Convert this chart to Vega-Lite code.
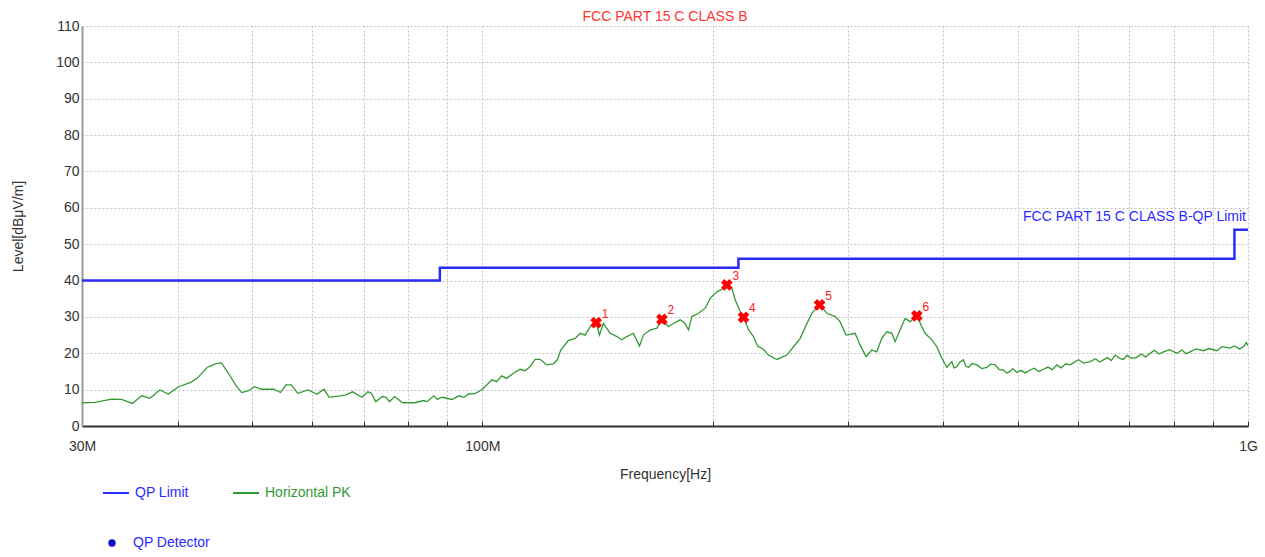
{
  "$schema": "https://vega.github.io/schema/vega-lite/v6.json",
  "width": 1166,
  "height": 400,
  "autosize": {"type": "none"},
  "padding": {"left": 82, "top": 26, "right": 17, "bottom": 131},
  "background": "white",
  "config": {
    "font": "Liberation Sans",
    "view": {"stroke": null},
    "axis": {"gridDash": [2, 2], "gridColor": "#c4c4c4", "gridWidth": 1, "labelFont": "Liberation Sans", "titleFont": "Liberation Sans"},
    "legend": {"labelFont": "Liberation Sans", "padding": 0}
  },
  "title": {"text": "FCC PART 15 C CLASS B", "color": "#ff3333", "fontSize": 14, "fontWeight": "normal", "font": "Liberation Sans", "offset": 3, "dy": 8, "anchor": "middle"},
  "datasets": {
    "limit": [
      {"f": 30, "L": 40, "s": "QP Limit"},
      {"f": 88, "L": 43.5, "s": "QP Limit"},
      {"f": 216, "L": 46, "s": "QP Limit"},
      {"f": 960, "L": 54, "s": "QP Limit"},
      {"f": 1000, "L": 54, "s": "QP Limit"}
    ],
    "pk": [
      {"f": 30.0, "L": 6.4}, {"f": 31.2, "L": 6.5}, {"f": 32.8, "L": 7.4}, {"f": 33.8, "L": 7.3}, {"f": 34.9, "L": 6.2},
      {"f": 35.9, "L": 8.3}, {"f": 36.8, "L": 7.6}, {"f": 37.9, "L": 9.9}, {"f": 38.9, "L": 8.8}, {"f": 40.1, "L": 10.8},
      {"f": 41.6, "L": 12.0}, {"f": 42.4, "L": 13.1}, {"f": 43.7, "L": 16.1}, {"f": 44.8, "L": 17.1}, {"f": 45.6, "L": 17.4},
      {"f": 46.6, "L": 14.5}, {"f": 47.6, "L": 11.3}, {"f": 48.5, "L": 9.2}, {"f": 49.5, "L": 9.7}, {"f": 50.4, "L": 10.8},
      {"f": 51.5, "L": 10.1}, {"f": 53.4, "L": 10.1}, {"f": 54.5, "L": 9.2}, {"f": 55.4, "L": 11.3}, {"f": 56.3, "L": 11.3},
      {"f": 57.4, "L": 9.0}, {"f": 59.2, "L": 9.9}, {"f": 60.8, "L": 8.7}, {"f": 62.1, "L": 10.1}, {"f": 63.1, "L": 7.9},
      {"f": 66.2, "L": 8.5}, {"f": 67.7, "L": 9.4}, {"f": 69.6, "L": 7.9}, {"f": 70.9, "L": 9.4}, {"f": 71.6, "L": 9.0},
      {"f": 72.6, "L": 6.7}, {"f": 74.0, "L": 8.1}, {"f": 74.9, "L": 7.9}, {"f": 75.6, "L": 6.7}, {"f": 76.8, "L": 8.1},
      {"f": 78.7, "L": 6.4}, {"f": 81.7, "L": 6.4}, {"f": 83.8, "L": 7.0}, {"f": 84.7, "L": 6.7}, {"f": 86.4, "L": 8.3},
      {"f": 87.3, "L": 7.3}, {"f": 88.6, "L": 7.9}, {"f": 91.3, "L": 7.3}, {"f": 93.1, "L": 8.3}, {"f": 94.6, "L": 7.9},
      {"f": 96.0, "L": 8.8}, {"f": 97.9, "L": 9.0}, {"f": 99.7, "L": 9.9}, {"f": 100.3, "L": 10.4}, {"f": 102.9, "L": 12.7},
      {"f": 104.4, "L": 12.2}, {"f": 106.0, "L": 13.8}, {"f": 107.6, "L": 13.1}, {"f": 109.8, "L": 14.5}, {"f": 112.0, "L": 15.6},
      {"f": 113.7, "L": 15.2}, {"f": 115.4, "L": 16.3}, {"f": 117.2, "L": 18.3}, {"f": 119.0, "L": 18.3}, {"f": 121.4, "L": 16.8},
      {"f": 123.8, "L": 17.1}, {"f": 125.3, "L": 18.2}, {"f": 126.6, "L": 20.9}, {"f": 129.5, "L": 23.5}, {"f": 132.2, "L": 24.1},
      {"f": 134.2, "L": 25.5}, {"f": 136.2, "L": 25.0}, {"f": 138.3, "L": 27.3}, {"f": 140.8, "L": 28.4}, {"f": 142.2, "L": 25.0},
      {"f": 143.9, "L": 28.2}, {"f": 146.9, "L": 25.5}, {"f": 149.9, "L": 24.6}, {"f": 152.1, "L": 23.7}, {"f": 154.4, "L": 24.6},
      {"f": 157.5, "L": 25.5}, {"f": 160.4, "L": 22.0}, {"f": 162.3, "L": 25.0}, {"f": 165.6, "L": 26.4}, {"f": 169.0, "L": 26.9},
      {"f": 171.6, "L": 29.3}, {"f": 175.0, "L": 27.3}, {"f": 177.7, "L": 28.2}, {"f": 181.3, "L": 29.2}, {"f": 184.0, "L": 28.2},
      {"f": 185.9, "L": 26.4}, {"f": 187.8, "L": 30.1}, {"f": 191.6, "L": 31.0}, {"f": 195.5, "L": 32.4}, {"f": 198.4, "L": 35.1},
      {"f": 202.5, "L": 36.9}, {"f": 205.5, "L": 37.6}, {"f": 208.6, "L": 38.8}, {"f": 211.8, "L": 37.9}, {"f": 213.9, "L": 34.7},
      {"f": 216.7, "L": 31.9}, {"f": 219.3, "L": 29.9}, {"f": 222.7, "L": 26.4}, {"f": 226.0, "L": 24.6}, {"f": 228.8, "L": 22.0},
      {"f": 232.9, "L": 21.1}, {"f": 236.4, "L": 19.5}, {"f": 242.5, "L": 18.3}, {"f": 249.9, "L": 19.5}, {"f": 254.9, "L": 21.8},
      {"f": 260.1, "L": 24.1}, {"f": 265.4, "L": 28.2}, {"f": 269.4, "L": 31.0}, {"f": 275.7, "L": 33.3}, {"f": 281.9, "L": 31.0},
      {"f": 289.0, "L": 30.1}, {"f": 293.2, "L": 28.7}, {"f": 298.6, "L": 25.0}, {"f": 306.8, "L": 25.5}, {"f": 311.4, "L": 22.3},
      {"f": 317.1, "L": 19.1}, {"f": 322.6, "L": 20.9}, {"f": 327.5, "L": 20.4}, {"f": 332.4, "L": 24.1}, {"f": 337.5, "L": 25.9},
      {"f": 342.6, "L": 25.5}, {"f": 346.0, "L": 23.2}, {"f": 351.2, "L": 26.4}, {"f": 356.6, "L": 29.6}, {"f": 362.0, "L": 28.7},
      {"f": 369.4, "L": 30.3}, {"f": 375.0, "L": 27.3}, {"f": 378.7, "L": 25.5}, {"f": 386.4, "L": 23.7}, {"f": 392.3, "L": 21.8},
      {"f": 398.3, "L": 18.6}, {"f": 404.3, "L": 16.1}, {"f": 410.4, "L": 17.7}, {"f": 413, "L": 16.0}, {"f": 416.7, "L": 16.3},
      {"f": 420, "L": 17.5}, {"f": 425, "L": 18.2}, {"f": 428, "L": 16.5}, {"f": 431.5, "L": 16.1}, {"f": 436, "L": 17.2},
      {"f": 442.5, "L": 16.8}, {"f": 449, "L": 15.8}, {"f": 456, "L": 16.1}, {"f": 461, "L": 17.0}, {"f": 467.5, "L": 16.8},
      {"f": 473, "L": 15.6}, {"f": 479.3, "L": 15.4}, {"f": 484, "L": 14.6}, {"f": 488.1, "L": 14.9}, {"f": 493, "L": 15.8},
      {"f": 499, "L": 14.7}, {"f": 505, "L": 15.3}, {"f": 512, "L": 14.6}, {"f": 519.4, "L": 15.4}, {"f": 526, "L": 15.9},
      {"f": 533, "L": 15.0}, {"f": 540.6, "L": 15.6}, {"f": 548, "L": 16.2}, {"f": 555, "L": 15.5}, {"f": 562.8, "L": 16.8},
      {"f": 570, "L": 16.0}, {"f": 578, "L": 17.1}, {"f": 585.8, "L": 16.8}, {"f": 593, "L": 17.5}, {"f": 600.5, "L": 18.2},
      {"f": 610, "L": 17.3}, {"f": 622.1, "L": 17.7}, {"f": 632, "L": 18.5}, {"f": 640, "L": 17.6}, {"f": 647.4, "L": 18.2},
      {"f": 655, "L": 18.8}, {"f": 663, "L": 18.0}, {"f": 670.6, "L": 19.5}, {"f": 680, "L": 18.6}, {"f": 687.5, "L": 18.3},
      {"f": 695, "L": 19.4}, {"f": 705, "L": 18.6}, {"f": 715.8, "L": 18.9}, {"f": 725, "L": 19.8}, {"f": 735, "L": 19.0},
      {"f": 745, "L": 20.0}, {"f": 755, "L": 20.8}, {"f": 765, "L": 19.8}, {"f": 775.4, "L": 20.4}, {"f": 790, "L": 21.0},
      {"f": 807.3, "L": 20.0}, {"f": 820, "L": 20.9}, {"f": 830, "L": 19.9}, {"f": 840.2, "L": 20.4}, {"f": 855, "L": 21.2},
      {"f": 874.6, "L": 20.7}, {"f": 890, "L": 21.3}, {"f": 910.5, "L": 20.7}, {"f": 925, "L": 21.8}, {"f": 947.5, "L": 21.4},
      {"f": 960, "L": 22.0}, {"f": 975, "L": 21.2}, {"f": 986.2, "L": 21.8}, {"f": 995, "L": 22.9}, {"f": 1000, "L": 22.2}
    ],
    "marks": [
      {"f": 140.8, "L": 28.4, "n": "1"},
      {"f": 171.6, "L": 29.3, "n": "2"},
      {"f": 208.6, "L": 38.8, "n": "3"},
      {"f": 219.3, "L": 29.9, "n": "4"},
      {"f": 275.7, "L": 33.3, "n": "5"},
      {"f": 369.4, "L": 30.3, "n": "6"}
    ],
    "limitLabel": [
      {"f": 1000, "L": 57.6, "t": "FCC PART 15 C CLASS B-QP Limit"}
    ],
    "detector": []
  },
  "layer": [
    {
      "data": {"name": "limit"},
      "mark": {"type": "line", "interpolate": "step-after", "strokeWidth": 2.5},
      "encoding": {
        "x": {
          "field": "f", "type": "quantitative",
          "scale": {"type": "log", "domain": [30, 1000], "nice": false},
          "axis": {
            "title": "Frequency[Hz]",
            "values": [30, 40, 50, 60, 70, 80, 90, 100, 200, 300, 400, 500, 600, 700, 800, 900, 1000],
            "labelExpr": "datum.value == 30 ? '30M' : datum.value == 100 ? '100M' : datum.value == 1000 ? '1G' : ''",
            "labelFontSize": 14, "labelColor": "#333333", "labelPadding": 18, "labelFlush": false, "labelOverlap": false,
            "domainColor": "#333333", "domainWidth": 2,
            "tickColor": "#333333", "tickSize": -5, "tickWidth": 1,
            "titleFontSize": 14, "titleFontWeight": "normal", "titleColor": "#333333", "titlePadding": 14
          }
        },
        "y": {
          "field": "L", "type": "quantitative",
          "scale": {"domain": [0, 110], "nice": false},
          "axis": {
            "title": "Level[dBμV/m]",
            "values": [0, 10, 20, 30, 40, 50, 60, 70, 80, 90, 100, 110],
            "tickCount": 12, "labelOverlap": false,
            "labelFontSize": 14, "labelColor": "#333333", "labelPadding": 3,
            "ticks": false, "domainColor": "#999999", "domainWidth": 2,
            "titleFontSize": 14, "titleFontWeight": "normal", "titleColor": "#333333", "titlePadding": 30
          }
        },
        "color": {
          "field": "s", "type": "nominal",
          "scale": {"domain": ["QP Limit", "Horizontal PK"], "range": ["#2a2aff", "#339933"]},
          "legend": {
            "title": null, "orient": "none", "legendX": 20, "legendY": 453, "direction": "horizontal",
            "columns": 2, "columnPadding": 40, "symbolType": "stroke", "symbolSize": 676, "symbolStrokeWidth": 2,
            "labelFontSize": 14, "labelOffset": 5,
            "encode": {"labels": {"update": {"fill": {"scale": "color", "field": "value"}}}}
          }
        }
      }
    },
    {
      "data": {"name": "pk"},
      "mark": {"type": "line", "strokeWidth": 1.3, "color": "#339933"},
      "encoding": {
        "x": {"field": "f", "type": "quantitative"},
        "y": {"field": "L", "type": "quantitative"},
        "color": {"datum": "Horizontal PK"}
      }
    },
    {
      "data": {"name": "marks"},
      "mark": {"type": "point", "shape": "cross", "angle": 45, "filled": true, "size": 140, "color": "#ff0000", "opacity": 1},
      "encoding": {
        "x": {"field": "f", "type": "quantitative"},
        "y": {"field": "L", "type": "quantitative"}
      }
    },
    {
      "data": {"name": "marks"},
      "mark": {"type": "text", "dx": 9, "dy": -9, "align": "center", "baseline": "middle", "fontSize": 12, "color": "#ff2020"},
      "encoding": {
        "x": {"field": "f", "type": "quantitative"},
        "y": {"field": "L", "type": "quantitative"},
        "text": {"field": "n"}
      }
    },
    {
      "data": {"name": "limitLabel"},
      "mark": {"type": "text", "dx": -2, "align": "right", "baseline": "middle", "fontSize": 14, "color": "#2a2aff"},
      "encoding": {
        "x": {"field": "f", "type": "quantitative"},
        "y": {"field": "L", "type": "quantitative"},
        "text": {"field": "t"}
      }
    },
    {
      "data": {"name": "detector"},
      "mark": {"type": "point", "filled": true, "shape": "circle"},
      "encoding": {
        "x": {"field": "f", "type": "quantitative"},
        "y": {"field": "L", "type": "quantitative"},
        "fill": {
          "field": "s", "type": "nominal",
          "scale": {"domain": ["QP Detector"], "range": ["#0a0ad0"]},
          "legend": {
            "title": null, "orient": "none", "legendX": 23, "legendY": 510,
            "symbolType": "circle", "symbolSize": 55, "symbolStrokeWidth": 0, "symbolOpacity": 1,
            "labelFontSize": 14, "labelOffset": 14, "labelColor": "#2a2aff"
          }
        }
      }
    }
  ]
}
